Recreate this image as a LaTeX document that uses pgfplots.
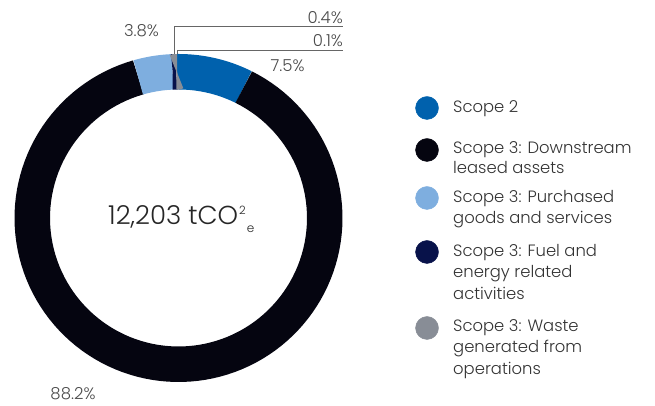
\documentclass[border=0pt]{standalone}
\usepackage{fontspec}
\setmainfont{Poppins}[UprightFont=* Light]
\usepackage{pgfplots}
\usepackage{pgfplotstable}
\pgfplotsset{compat=1.18}

\definecolor{sctwo}{HTML}{0061AD}
\definecolor{scdown}{HTML}{050510}
\definecolor{scpurch}{HTML}{7EAEDF}
\definecolor{scfuel}{HTML}{08124A}
\definecolor{scwaste}{HTML}{888D96}
\definecolor{lbl}{HTML}{4A4A4A}
\definecolor{leg}{HTML}{333333}

% share of emissions in %, clockwise from the top
\pgfplotstableread[col sep=comma]{
share,colour
7.5,sctwo
88.2,scdown
3.8,scpurch
0.4,scfuel
0.1,scwaste
}\donutdata

\begin{document}
\begin{tikzpicture}
\begin{axis}[
    width=655pt, height=406pt,
    scale only axis,
    hide axis,
    xmin=0, xmax=655,
    ymin=0, ymax=406,
    clip=false,
]
% keep the whole canvas
\path (rel axis cs:0,0) rectangle (rel axis cs:1,1);

% leader lines for the two thin slices
\draw[gray!80!black, line width=0.7pt] (axis cs:174,352) |- (axis cs:343,380);
\draw[gray!80!black, line width=0.7pt] (axis cs:177,352) |- (axis cs:343,356);

% donut ring
\pgfmathsetmacro\startangle{90.5}
\pgfplotsforeachungrouped \i in {0,...,4}{%
  \pgfplotstablegetelem{\i}{share}\of\donutdata \let\share\pgfplotsretval
  \pgfplotstablegetelem{\i}{colour}\of\donutdata \let\col\pgfplotsretval
  \pgfmathsetmacro\endangle{\startangle-3.6*\share}
  \edef\seg{\noexpand\addplot[draw=\col, line width=35.5pt, no markers,
      domain=\endangle:\startangle, samples=120]
      ({178.5+146.25*cos(x)}, {188+146.25*sin(x)});}
  \seg
  \global\let\startangle\endangle
}

% slice labels
\begin{scope}[every node/.style={inner sep=0pt, text=lbl, font=\fontsize{16.5}{20}\selectfont}]
\node[anchor=base] at (axis cs:141.5,369) {3.8\%};
\node[anchor=base east] at (axis cs:343,382) {0.4\%};
\node[anchor=base east] at (axis cs:343,359) {0.1\%};
\node[anchor=base] at (axis cs:287.5,334) {7.5\%};
\node[anchor=base] at (axis cs:73,6) {88.2\%};
\end{scope}

% total in the centre
\node[anchor=base west, inner sep=0pt, text=black!85, font=\fontsize{26}{30}\selectfont]
  at (axis cs:108,181)
  {12,203 tCO\kern1pt\raisebox{10pt}{\fontsize{11.5}{12}\selectfont 2}\kern1pt\raisebox{-8pt}{\fontsize{12}{12}\selectfont e}};

% legend
\addplot[only marks, mark=*, mark size=11.5pt, color=sctwo] coordinates {(427,298)};
\addplot[only marks, mark=*, mark size=11.5pt, color=scdown] coordinates {(427,256)};
\addplot[only marks, mark=*, mark size=11.5pt, color=scpurch] coordinates {(427,208)};
\addplot[only marks, mark=*, mark size=11.5pt, color=scfuel] coordinates {(427,154)};
\addplot[only marks, mark=*, mark size=11.5pt, color=scwaste] coordinates {(427,78)};

\begin{scope}[every node/.style={anchor=base west, inner sep=0pt, text=leg, font=\fontsize{16.4}{20}\selectfont}]
\node at (axis cs:453,293) {Scope 2};
\node at (axis cs:453,252) {Scope 3: Downstream};
\node at (axis cs:453,232) {leased assets};
\node at (axis cs:453,203) {Scope 3: Purchased};
\node at (axis cs:453,182) {goods and services};
\node at (axis cs:453,149) {Scope 3: Fuel and};
\node at (axis cs:453,128) {energy related};
\node at (axis cs:453,106) {activities};
\node at (axis cs:453,74) {Scope 3: Waste};
\node at (axis cs:453,53) {generated from};
\node at (axis cs:453,31) {operations};
\end{scope}
\end{axis}
\end{tikzpicture}
\end{document}
